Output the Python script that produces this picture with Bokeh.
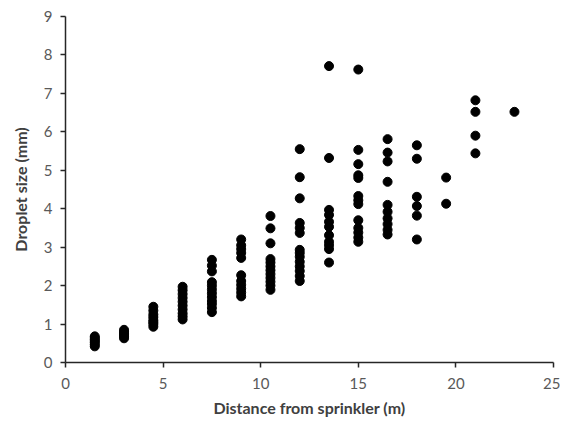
from bokeh.plotting import figure
from bokeh.models import ColumnDataSource, FixedTicker, Range1d
from bokeh.embed import file_html
from bokeh.resources import INLINE

# Droplet sizes (mm) measured at each distance (m)
d_1_5 = [0.42, 0.47, 0.52, 0.56, 0.60, 0.64, 0.68]
d_3_0 = [0.63, 0.68, 0.72, 0.76, 0.80, 0.85]
d_4_5 = [0.93, 1.00, 1.05, 1.10, 1.18, 1.25, 1.35, 1.45]
d_6_0 = [1.12, 1.20, 1.28, 1.38, 1.48, 1.58, 1.68, 1.78, 1.88, 1.97]
d_7_5 = [1.31, 1.42, 1.52, 1.60, 1.70, 1.80, 1.90, 2.00, 2.09, 2.37, 2.52, 2.67]
d_9_0 = [1.72, 1.82, 1.92, 2.02, 2.12, 2.27, 2.72, 2.85, 2.95, 3.05, 3.20]
d_10_5 = [1.89, 2.00, 2.10, 2.20, 2.30, 2.40, 2.50, 2.60, 2.69, 3.10, 3.49, 3.81]
d_12_0 = [2.12, 2.25, 2.38, 2.50, 2.62, 2.75, 2.85, 2.93, 3.37, 3.50, 3.63, 4.27, 4.82, 5.55]
d_13_5 = [2.60, 2.95, 3.05, 3.14, 3.31, 3.53, 3.66, 3.84, 3.97, 5.32, 7.71]
d_15_0 = [3.14, 3.25, 3.38, 3.50, 3.70, 4.12, 4.22, 4.33, 4.80, 4.87, 5.16, 5.53, 7.62]
d_16_5 = [3.33, 3.45, 3.60, 3.75, 3.92, 4.10, 4.70, 5.23, 5.46, 5.81]
d_18_0 = [3.20, 3.82, 4.07, 4.31, 5.30, 5.65]
d_19_5 = [4.13, 4.81]
d_21_0 = [5.44, 5.90, 6.52, 6.82]
d_23_0 = [6.52]

distances = [1.5, 3.0, 4.5, 6.0, 7.5, 9.0, 10.5, 12.0, 13.5, 15.0, 16.5, 18.0, 19.5, 21.0, 23.0]
sizes = [d_1_5, d_3_0, d_4_5, d_6_0, d_7_5, d_9_0, d_10_5, d_12_0, d_13_5,
         d_15_0, d_16_5, d_18_0, d_19_5, d_21_0, d_23_0]

x_ticks = [0, 5, 10, 15, 20, 25]
y_ticks = [0, 1, 2, 3, 4, 5, 6, 7, 8, 9]

xs, ys = [], []
for d, vals in zip(distances, sizes):
    for v in vals:
        xs.append(d)
        ys.append(v)

src = ColumnDataSource(data=dict(x=xs, y=ys))

p = figure(width=560, height=419, output_backend="svg", toolbar_location=None,
           x_range=Range1d(0, 25), y_range=Range1d(0, 9),
           min_border_left=65, min_border_right=7, min_border_top=16, min_border_bottom=50)
p.scatter("x", "y", source=src, size=9, color="black")

p.grid.visible = False
p.outline_line_color = None

for ax in (p.xaxis[0], p.yaxis[0]):
    ax.axis_line_color = "#262626"
    ax.axis_line_width = 1.5
    ax.major_tick_line_color = "#262626"
    ax.major_tick_line_width = 1.5
    ax.major_tick_in = 0
    ax.major_tick_out = 5
    ax.minor_tick_line_color = None
    ax.major_label_text_font = "Lato"
    ax.major_label_text_font_size = "15px"
    ax.major_label_text_color = "#595959"
    ax.axis_label_text_font = "Lato"
    ax.axis_label_text_font_size = "16px"
    ax.axis_label_text_font_style = "bold"
    ax.axis_label_text_color = "#404040"

p.xaxis.ticker = FixedTicker(ticks=x_ticks)
p.yaxis.ticker = FixedTicker(ticks=y_ticks)
p.xaxis.axis_label = "Distance from sprinkler (m)"
p.yaxis.axis_label = "Droplet size (mm)"
p.xaxis.major_label_standoff = 10
p.yaxis.major_label_standoff = 8
p.xaxis.axis_label_standoff = 6
p.yaxis.axis_label_standoff = 11

open("out.html", "w").write(file_html(p, INLINE))
